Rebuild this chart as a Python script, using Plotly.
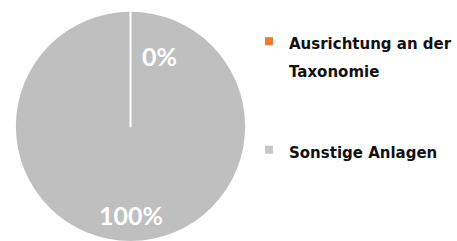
import plotly.graph_objects as go

labels = ["Ausrichtung an der<br>Taxonomie", "Sonstige Anlagen"]
values = [0, 100]
colors = ["#ED7D31", "#BFBFBF"]
legend_colors = ["#ED7D31", "#C8C8C8"]

W, H = 457, 241

# pie geometry in screen pixels (centre and radius)
pie_cx, pie_cy, pie_r = 130.5, 127.2, 115.5


def fx(px):
    return px / W


def fy(py):
    return 1 - py / H


dom_x = [fx(pie_cx - pie_r), fx(pie_cx + pie_r)]
dom_y = [max(0.0, fy(pie_cy + pie_r)), fy(pie_cy - pie_r)]

fig = go.Figure()
fig.add_trace(go.Pie(
    labels=labels, values=values, sort=False, direction="clockwise", rotation=0,
    marker=dict(colors=colors, line=dict(color="white", width=0)),
    textinfo="none", showlegend=False, hoverinfo="label+percent",
    domain=dict(x=dom_x, y=dom_y),
))

SPAN = "<span style='font-size:15px'>{}</span>"
for lab, col in zip(labels, legend_colors):
    name = "<br>".join(SPAN.format(p) for p in lab.split("<br>"))
    fig.add_trace(go.Scatter(
        x=[None], y=[None], mode="markers", name=name, legendgroup=lab,
        marker=dict(symbol="square", size=8, color=col),
    ))

fig.add_shape(type="line", xref="paper", yref="paper",
              x0=fx(pie_cx), x1=fx(pie_cx), y0=fy(pie_cy), y1=fy(pie_cy - pie_r),
              line=dict(color="white", width=2))

total = sum(values)
pcts = [f"{round(v / total * 100)}%" for v in values]
label_off = [(28.5, -71), (0, 88)]
for txt, (dx, dy) in zip(pcts, label_off):
    fig.add_annotation(text=txt, x=fx(pie_cx + dx), y=fy(pie_cy + dy), xref="paper", yref="paper",
                       xanchor="center", yanchor="middle", showarrow=False,
                       font=dict(family="Lato", size=25, color="white", weight="bold"))

fig.update_layout(
    width=W, height=H, margin=dict(l=0, r=0, t=0, b=0),
    paper_bgcolor="white", plot_bgcolor="white",
    xaxis=dict(visible=False), yaxis=dict(visible=False),
    legend=dict(x=fx(249), y=fy(21), xanchor="left", yanchor="top", valign="top",
                tracegroupgap=51, itemwidth=30, bgcolor="rgba(0,0,0,0)",
                font=dict(family="DejaVu Sans", size=21, color="#111111", weight="bold")),
)

fig.write_html("out.html", config={"displayModeBar": False},
               post_script="document.body.style.margin='0';document.body.style.overflow='hidden';")
